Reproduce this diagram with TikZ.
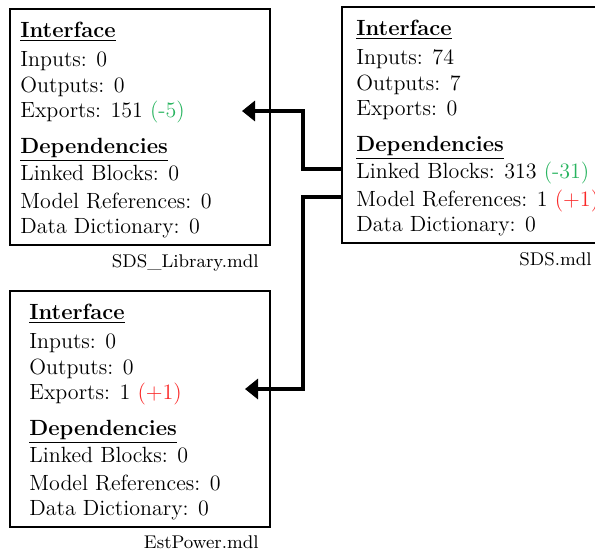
\documentclass[tikz,border=0pt]{standalone}
\usepackage{tikz}
\usetikzlibrary{arrows.meta}
\definecolor{less}{RGB}{40,180,95}
\definecolor{more}{RGB}{250,40,40}

\begin{document}
\begin{tikzpicture}
[x=0.5pt,y=-0.5pt,
box/.style={draw,line width=0.6pt,inner sep=0pt,minimum width=130pt,minimum height=118pt},
entry/.style={anchor=base west,inner sep=0pt,text height=9pt,text depth=0pt,font=\fontsize{11}{13}\selectfont},
head/.style={entry,font=\fontsize{11}{13}\selectfont\bfseries},
file/.style={anchor=base east,inner sep=0pt,font=\fontsize{9.2}{11}\selectfont},
conn/.style={line width=2pt,-{Triangle[length=6.5pt,width=10pt]}}]
\useasboundingbox (0,0) rectangle (595,554);

\node[box] (lib) at (140,127) {};
\node[head] (libiface) at (20,37.5) {\underline{Interface}};
\node[entry] (libin) at (20,66.5) {Inputs: 0};
\node[entry] (libout) at (20,92) {Outputs: 0};
\node[entry] (libexports) at (20,117) {Exports: 151 \textcolor{less}{(-5)}};
\node[head] (libdeps) at (20,153) {\underline{Dependencies}};
\node[entry] (liblinked) at (20,180) {Linked Blocks: 0};
\node[entry] (libmodel) at (20,208) {Model References: 0};
\node[entry] (libdict) at (20,233) {Data Dictionary: 0};
\node[file] (libname) at (259,267) {SDS\_Library.mdl};

\node[box,minimum width=131.5pt] (sds) at (473.5,125) {};
\node[head] (sdsiface) at (356,35.5) {\underline{Interface}};
\node[entry] (sdsin) at (356,64.5) {Inputs: 74};
\node[entry] (sdsout) at (356,90) {Outputs: 7};
\node[entry] (sdsexports) at (356,115) {Exports: 0};
\node[head] (sdsdeps) at (356,151) {\underline{Dependencies}};
\node[entry] (sdslinked) at (356,178) {Linked Blocks: 313 \textcolor{less}{(-31)}};
\node[entry] (sdsmodel) at (356,206) {Model References: 1 \textcolor{more}{(+1)}};
\node[entry] (sdsdict) at (356,231) {Data Dictionary: 0};
\node[file] (sdsname) at (592,265) {SDS.mdl};

\node[box] (est) at (140,409) {};
\node[head] (estiface) at (29,319.5) {\underline{Interface}};
\node[entry] (estin) at (29,348.5) {Inputs: 0};
\node[entry] (estout) at (29,374) {Outputs: 0};
\node[entry] (estexports) at (29,399) {Exports: 1 \textcolor{more}{(+1)}};
\node[head] (estdeps) at (29,435) {\underline{Dependencies}};
\node[entry] (estlinked) at (29,462) {Linked Blocks: 0};
\node[entry] (estmodel) at (29,490) {Model References: 0};
\node[entry] (estdict) at (29,515) {Data Dictionary: 0};
\node[file] (estname) at (259,548) {EstPower.mdl};

\coordinate (libport) at (242,111);
\coordinate (estport) at (245,389);

\draw [conn] (sds.west |- sdslinked.west) -- ++(-38,0) |- (libport);
\draw [conn] (sds.west |- sdsmodel.west) -- ++(-38,0) |- (estport);
\end{tikzpicture}
\end{document}
